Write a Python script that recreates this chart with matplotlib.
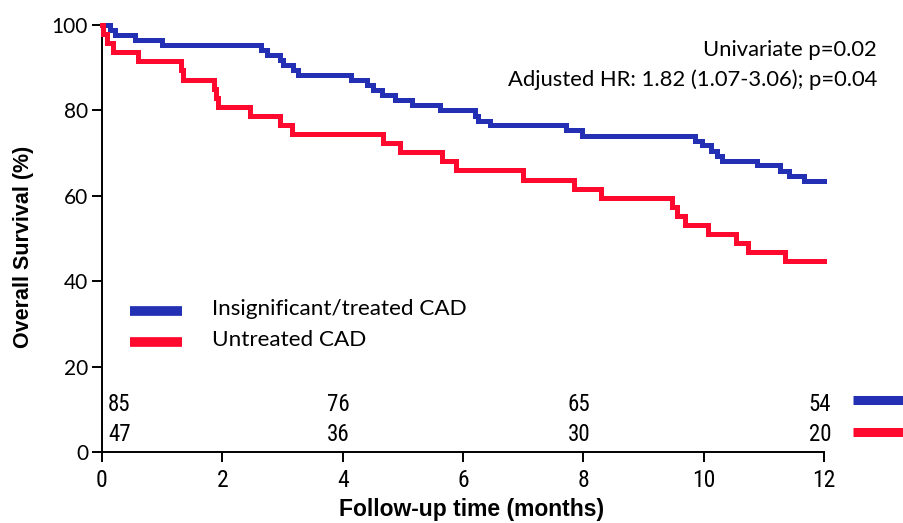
import matplotlib
matplotlib.use("Agg")
import matplotlib.pyplot as plt

# ---------------- data ----------------
blue_label = "Insignificant/treated CAD"
red_label = "Untreated CAD"

blue_time = [0, 0.13, 0.22, 0.55, 0.99, 2.65, 2.74, 2.96, 3.01, 3.17, 3.26, 4.14,
             4.40, 4.51, 4.65, 4.87, 5.15, 5.62, 6.20, 6.25, 6.45, 7.72, 7.97,
             9.86, 9.97, 10.13, 10.22, 10.30, 10.88, 11.27, 11.41, 11.67, 12.0]
blue_surv = [100, 98.8, 97.6, 96.5, 95.3, 94.1, 92.9, 91.8, 90.6, 89.4, 88.2, 87.1,
             85.9, 84.7, 83.5, 82.4, 81.2, 80.0, 78.8, 77.6, 76.5, 75.3, 74.1,
             72.9, 71.8, 70.6, 69.4, 68.2, 67.1, 65.9, 64.7, 63.5, 63.5]

red_time = [0, 0.01, 0.08, 0.19, 0.60, 1.32, 1.35, 1.86, 1.89, 1.93, 2.46, 2.96,
            3.15, 4.67, 4.96, 5.65, 5.89, 7.0, 7.85, 8.29, 9.47, 9.56, 9.69,
            10.08, 10.54, 10.73, 11.35, 12.0]
red_surv = [100, 97.9, 95.7, 93.6, 91.5, 89.4, 87.2, 85.1, 83.0, 80.9, 78.7, 76.6,
            74.5, 72.3, 70.2, 68.1, 66.0, 63.8, 61.7, 59.6, 57.4, 55.3, 53.2,
            51.1, 48.9, 46.8, 44.7, 44.7]

risk_times = [0, 4, 8, 12]
blue_risk = [85, 76, 65, 54]
red_risk = [47, 36, 30, 20]

x_ticks = [0, 2, 4, 6, 8, 10, 12]
y_ticks = [0, 20, 40, 60, 80, 100]

annot_lines = ["Univariate p=0.02", "Adjusted HR: 1.82 (1.07-3.06); p=0.04"]

# ---------------- style ----------------
BLUE = "#2430b4"
RED = "#ff0a2e"
TXT_FONT = ["Lato", "DejaVu Sans"]
NARROW = ["Liberation Sans Narrow", "DejaVu Sans Condensed", "Roboto Condensed", "Liberation Sans"]
BOLD = ["Liberation Sans", "DejaVu Sans"]

W, H = 904, 523
fig = plt.figure(figsize=(W / 100, H / 100), dpi=100)
ax = fig.add_axes([102 / W, 1 - 452 / H, (824 - 102) / W, (452 - 25) / H])

ax.step(blue_time, blue_surv, where="post", color=BLUE, lw=3.6, clip_on=False,
        solid_joinstyle="miter", zorder=3)
ax.step(red_time, red_surv, where="post", color=RED, lw=3.6, clip_on=False,
        solid_joinstyle="miter", zorder=3)

ax.set_xlim(0, 12)
ax.set_ylim(0, 100)
ax.set_xticks(x_ticks)
ax.set_yticks(y_ticks)
for s in ["top", "right"]:
    ax.spines[s].set_visible(False)
for s in ["left", "bottom"]:
    ax.spines[s].set_linewidth(1.4)
ax.tick_params(axis="both", direction="out", length=7, width=1.4, color="black")
ax.tick_params(axis="y", pad=3)
ax.tick_params(axis="x", pad=5)

for lab in ax.get_yticklabels():
    lab.set_fontfamily(TXT_FONT)
    lab.set_fontsize(15)
for lab in ax.get_xticklabels():
    lab.set_fontfamily(NARROW)
    lab.set_fontsize(17)

ax.set_ylabel("Overall Survival (%)", fontfamily=BOLD, fontweight="bold",
              fontsize=15.5)
ax.yaxis.set_label_coords(-0.094, 0.48)
ax.set_xlabel("Follow-up time (months)", fontfamily=BOLD, fontweight="bold",
              fontsize=16.5)
ax.xaxis.set_label_coords(0.512, -0.108)

# annotation
ax.text(12.88, 94.1, annot_lines[0], ha="right", va="center", fontfamily=TXT_FONT,
        fontsize=15.8, clip_on=False)
ax.text(12.88, 87.1, annot_lines[1], ha="right", va="center", fontfamily=TXT_FONT,
        fontsize=15.8, clip_on=False)

# legend (manual)
LEG_X0, LEG_X1, LEG_TX = 0.465, 1.33, 1.83
ax.plot([LEG_X0, LEG_X1], [33.0, 33.0], color=BLUE, lw=7, solid_capstyle="butt")
ax.plot([LEG_X0, LEG_X1], [25.8, 25.8], color=RED, lw=7, solid_capstyle="butt")
ax.text(LEG_TX, 33.4, blue_label, ha="left", va="center", fontfamily=TXT_FONT, fontsize=16.2)
ax.text(LEG_TX, 26.2, red_label, ha="left", va="center", fontfamily=TXT_FONT, fontsize=16.2)

# numbers at risk
risk_y_blue, risk_y_red = 11.2, 4.2
for i, t in enumerate(risk_times):
    if i == 0:
        xpos, ha = t + 0.1, "left"
    else:
        xpos, ha = t - 0.07, "center"
    ax.text(xpos, risk_y_blue, str(blue_risk[i]), ha=ha, va="center",
            fontfamily=NARROW, fontsize=16.5)
    ax.text(xpos, risk_y_red, str(red_risk[i]), ha=ha, va="center",
            fontfamily=NARROW, fontsize=16.5)

# coloured keys to the right of the risk table
KEY_X0, KEY_X1 = 12.48, 13.5
ax.plot([KEY_X0, KEY_X1], [12.1, 12.1], color=BLUE, lw=6.5, solid_capstyle="butt", clip_on=False)
ax.plot([KEY_X0, KEY_X1], [4.8, 4.8], color=RED, lw=6.5, solid_capstyle="butt", clip_on=False)

fig.savefig("out.png", dpi=100)
